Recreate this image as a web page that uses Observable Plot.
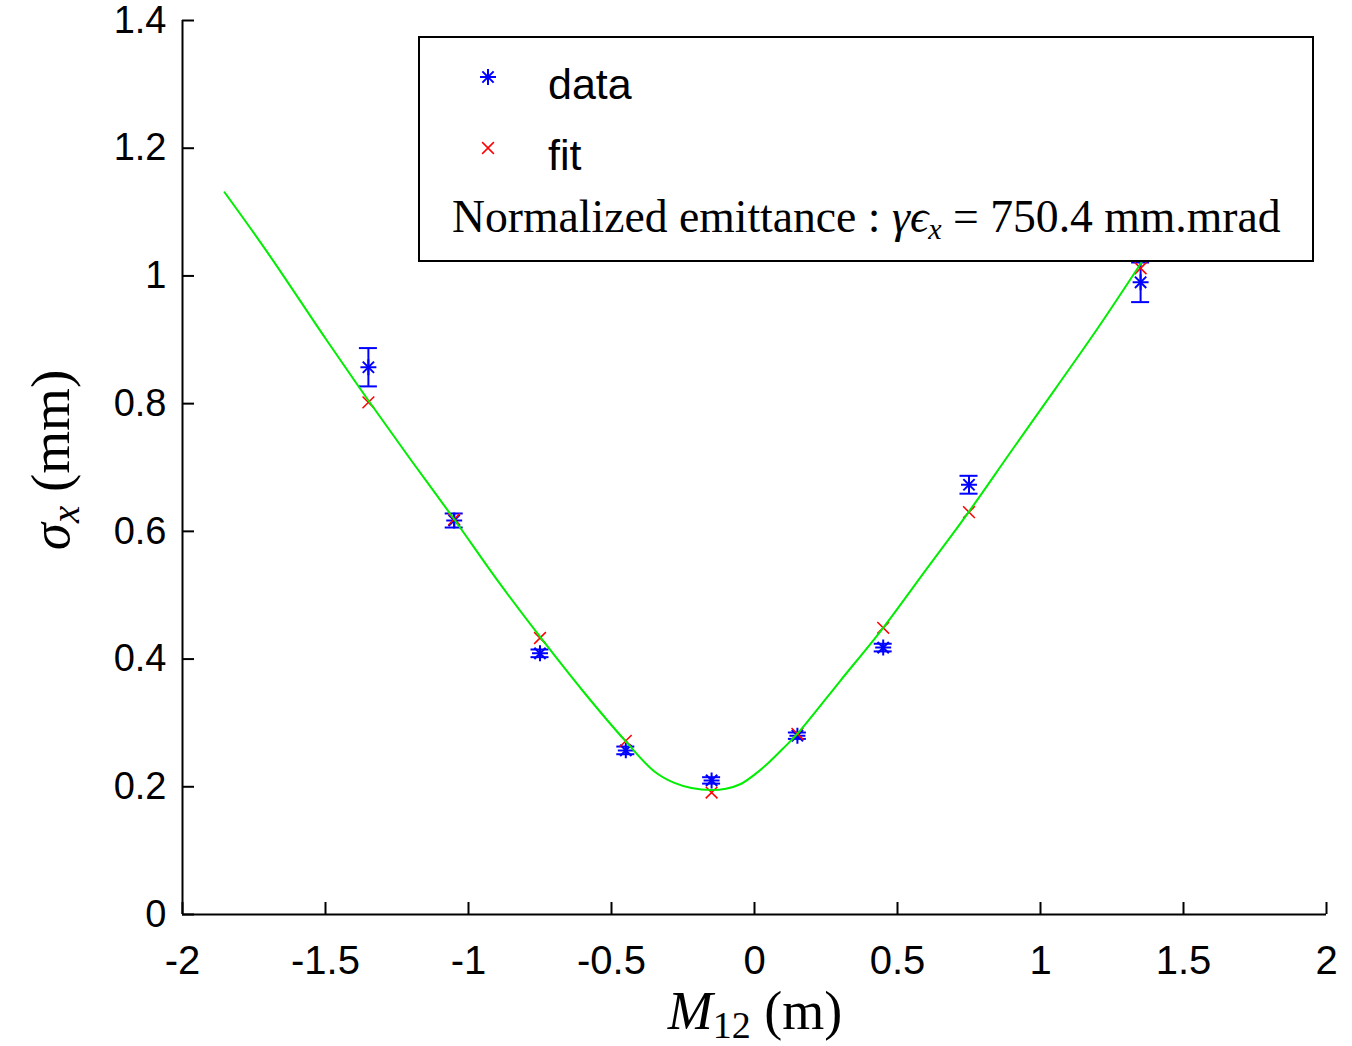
<!DOCTYPE html>
<html><head><meta charset="utf-8">
<script src="https://cdn.jsdelivr.net/npm/d3@7"></script>
<script src="https://cdn.jsdelivr.net/npm/@observablehq/plot@0.6"></script>
<style>body{margin:0;background:#fff}</style>
</head><body><div id="chart"></div>
<script>
// ---- data ----
const xTicks = [-2, -1.5, -1, -0.5, 0, 0.5, 1, 1.5, 2];
const yTicks = [0, 0.2, 0.4, 0.6, 0.8, 1.0, 1.2, 1.4];
const m12 = [-1.35, -1.05, -0.75, -0.45, -0.15, 0.15, 0.45, 0.75, 1.35];
const sigmaData = [0.857, 0.617, 0.409, 0.257, 0.210, 0.280, 0.418, 0.673, 0.990];
const sigmaErr = [0.030, 0.011, 0.006, 0.006, 0.005, 0.005, 0.006, 0.014, 0.031];
const sigmaFit = [0.802, 0.619, 0.433, 0.272, 0.191, 0.283, 0.449, 0.630, 1.012];
const curveM12 = [-1.853, -1.7, -1.5, -1.35, -1.2, -1.05, -0.9, -0.75, -0.6, -0.45, -0.35, -0.28, -0.22, -0.15, -0.1, -0.05, 0.0, 0.05, 0.1, 0.15, 0.3, 0.45, 0.6, 0.75, 0.9, 1.05, 1.2, 1.353];
const curveSigma = [1.131, 1.035, 0.902, 0.805, 0.711, 0.619, 0.524, 0.435, 0.350, 0.271, 0.224, 0.206, 0.198, 0.195, 0.197, 0.204, 0.219, 0.238, 0.260, 0.283, 0.366, 0.449, 0.540, 0.631, 0.727, 0.822, 0.918, 1.021];
const legendLabels = ["data", "fit"];

const pts = m12.map((x, i) => ({x, y: sigmaData[i], lo: sigmaData[i] - sigmaErr[i], hi: sigmaData[i] + sigmaErr[i], fit: sigmaFit[i]}));
const curve = curveM12.map((x, i) => ({x, y: curveSigma[i]}));

const BLUE = "#0000ff", RED = "#ff0000", GREEN = "#00ee00";

const chart = Plot.plot({
  width: 1352, height: 1046,
  marginLeft: 182, marginRight: 26, marginTop: 20, marginBottom: 132,
  style: {fontFamily: "'Liberation Sans', Arial, sans-serif", background: "#fff", color: "#000"},
  x: {domain: [-2, 2]},
  y: {domain: [0, 1.4]},
  marks: [
    Plot.axisX({ticks: xTicks, tickSize: 0, tickPadding: 31, fontSize: 40, label: null, tickFormat: d => String(d)}),
    Plot.axisY({ticks: yTicks, tickSize: 0, tickPadding: 16, fontSize: 38, label: null, tickFormat: d => String(+d.toFixed(1))}),
    Plot.ruleX([-2], {stroke: "#000", strokeWidth: 2}),
    Plot.ruleY([0], {stroke: "#000", strokeWidth: 2}),
    Plot.ruleX(xTicks, {x: d => d, y1: () => 0, y2: () => 0, insetTop: -12, stroke: "#000", strokeWidth: 2}),
    Plot.ruleY(yTicks, {y: d => d, x1: () => -2, x2: () => -2, insetRight: -12, stroke: "#000", strokeWidth: 2}),
    // error bars
    Plot.ruleX(pts, {x: "x", y1: "lo", y2: "hi", stroke: BLUE, strokeWidth: 2}),
    Plot.ruleY(pts, {y: "lo", x1: "x", x2: "x", insetLeft: -9, insetRight: -9, stroke: BLUE, strokeWidth: 2}),
    Plot.ruleY(pts, {y: "hi", x1: "x", x2: "x", insetLeft: -9, insetRight: -9, stroke: BLUE, strokeWidth: 2}),
    // data stars
    Plot.dot(pts, {x: "x", y: "y", symbol: "plus", r: 5.2, stroke: BLUE, strokeWidth: 2}),
    Plot.dot(pts, {x: "x", y: "y", symbol: "times", r: 5.2, stroke: BLUE, strokeWidth: 2}),
    // fit crosses
    Plot.dot(pts, {x: "x", y: "fit", symbol: "times", r: 5.4, stroke: RED, strokeWidth: 1.5}),
    // fitted curve
    Plot.line(curve, {x: "x", y: "y", stroke: GREEN, strokeWidth: 2, curve: "catmull-rom"})
  ]
});
document.getElementById("chart").appendChild(chart);

const svg = d3.select(chart);
const serif = "'Liberation Serif', 'DejaVu Serif', serif";
const sans = "'Liberation Sans', Arial, sans-serif";

// y label
const yl = svg.append("text")
  .attr("transform", "translate(50,460) rotate(-90)")
  .attr("text-anchor", "middle").attr("dy", "0.35em")
  .attr("font-family", serif).attr("font-size", 55).attr("fill", "#000");
yl.append("tspan").attr("font-style", "italic").text("σ");
yl.append("tspan").attr("font-style", "italic").attr("font-size", 39).attr("dy", 10).text("x");
yl.append("tspan").attr("dy", -10).text(" (mm)");

// x label
const xl = svg.append("text")
  .attr("x", 755).attr("y", 1029)
  .attr("text-anchor", "middle")
  .attr("font-family", serif).attr("font-size", 54).attr("fill", "#000");
xl.append("tspan").attr("font-style", "italic").text("M");
xl.append("tspan").attr("font-size", 38).attr("dy", 9).text("12");
xl.append("tspan").attr("dy", -9).text(" (m)");

// legend
const lg = svg.append("g").attr("text-anchor", "start");
lg.append("rect").attr("x", 419).attr("y", 37).attr("width", 894).attr("height", 224)
  .attr("fill", "#fff").attr("stroke", "#000").attr("stroke-width", 2);
lg.append("path").attr("transform", "translate(488,77)")
  .attr("d", d3.symbol(d3.symbolPlus, Math.PI * 5.2 * 5.2)()).attr("fill", "none").attr("stroke", BLUE).attr("stroke-width", 2);
lg.append("path").attr("transform", "translate(488,77)")
  .attr("d", d3.symbol(d3.symbolTimes, Math.PI * 5.2 * 5.2)()).attr("fill", "none").attr("stroke", BLUE).attr("stroke-width", 2);
lg.append("path").attr("transform", "translate(488,148)")
  .attr("d", d3.symbol(d3.symbolTimes, Math.PI * 5.4 * 5.4)()).attr("fill", "none").attr("stroke", RED).attr("stroke-width", 1.5);
lg.append("text").attr("x", 548).attr("y", 99).attr("font-size", 43).attr("text-anchor", "start")
  .attr("font-family", sans).text(legendLabels[0]);
lg.append("text").attr("x", 548).attr("y", 170).attr("font-size", 43).attr("text-anchor", "start")
  .attr("font-family", sans).text(legendLabels[1]);
const nt = lg.append("text").attr("x", 452).attr("y", 232).attr("text-anchor", "start")
  .attr("font-family", serif).attr("font-size", 42).attr("fill", "#000");
nt.append("tspan").text("Normalized emittance : ");
nt.append("tspan").attr("font-style", "italic").text("γϵ");
nt.append("tspan").attr("font-style", "italic").attr("font-size", 30).attr("dy", 7).text("x");
nt.append("tspan").attr("dy", -7).text(" = 750.4 mm.mrad");
// fit the emittance line to the reference span (x 452 → 1282)
const len = nt.node().getComputedTextLength();
if (len > 0) nt.attr("font-size", 42 * 830 / len);
</script>
</body></html>
